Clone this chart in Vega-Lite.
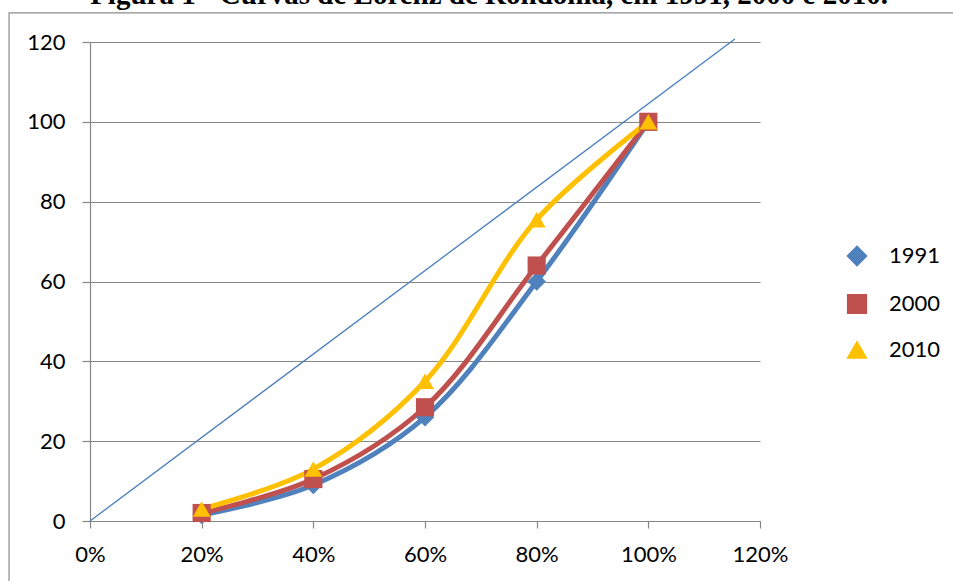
{
  "$schema": "https://vega.github.io/schema/vega-lite/v6.json",
  "width": 670,
  "height": 479,
  "autosize": {"type": "none"},
  "padding": {"left": 90, "top": 42, "right": 193, "bottom": 60},
  "background": "white",
  "config": {"view": {"stroke": null}, "font": "Lato"},
  "title": {
    "text": "Figura 1 - Curvas de Lorenz de Rondônia, em 1991, 2000 e 2010.",
    "font": "Liberation Serif",
    "fontSize": 29,
    "fontWeight": "bold",
    "color": "black",
    "anchor": "middle",
    "frame": "group",
    "dx": 64,
    "offset": -21,
    "baseline": "alphabetic"
  },
  "datasets": {
    "lorenz": [
      {"ano": "1991", "pop": 0.2, "renda": 1.5},
      {"ano": "1991", "pop": 0.4, "renda": 9},
      {"ano": "1991", "pop": 0.6, "renda": 26},
      {"ano": "1991", "pop": 0.8, "renda": 60},
      {"ano": "1991", "pop": 1.0, "renda": 100},
      {"ano": "2000", "pop": 0.2, "renda": 2},
      {"ano": "2000", "pop": 0.4, "renda": 10.5},
      {"ano": "2000", "pop": 0.6, "renda": 28.5},
      {"ano": "2000", "pop": 0.8, "renda": 64},
      {"ano": "2000", "pop": 1.0, "renda": 100},
      {"ano": "2010", "pop": 0.2, "renda": 3},
      {"ano": "2010", "pop": 0.4, "renda": 13},
      {"ano": "2010", "pop": 0.6, "renda": 35},
      {"ano": "2010", "pop": 0.8, "renda": 75.5},
      {"ano": "2010", "pop": 1.0, "renda": 100}
    ],
    "igualdade": [
      {"pop": 0, "renda": 0},
      {"pop": 1.155, "renda": 120.75}
    ]
  },
  "layer": [
    {
      "data": {"values": [{"frame": 1}]},
      "mark": {"type": "rect", "filled": false, "stroke": "#8c8c8c", "strokeWidth": 1.2, "clip": false},
      "encoding": {
        "x": {"datum": -0.145, "type": "quantitative", "scale": {"domain": [0, 1.2]}, "axis": {"format": ".0%", "values": [0, 0.2, 0.4, 0.6, 0.8, 1.0, 1.2], "grid": false, "domainColor": "#868686", "domainWidth": 1.2, "tickColor": "#868686", "tickWidth": 1.2, "tickSize": 7, "labelFontSize": 22, "labelPadding": 16, "labelColor": "black", "labelFlush": false, "labelOverlap": false, "title": null}},
        "x2": {"datum": 2},
        "y": {"datum": 127.3, "type": "quantitative", "scale": {"domain": [0, 120]}, "axis": {"values": [0, 20, 40, 60, 80, 100, 120], "grid": true, "gridColor": "#868686", "gridWidth": 1.2, "domainColor": "#868686", "domainWidth": 1.2, "tickColor": "#868686", "tickWidth": 1.2, "tickSize": 8, "labelFontSize": 22, "labelPadding": 17, "labelColor": "black", "title": null}},
        "y2": {"datum": -40}
      }
    },
    {
      "data": {"name": "igualdade"},
      "mark": {"type": "line", "color": "#4A7EBB", "strokeWidth": 1.3},
      "encoding": {
        "x": {"field": "pop", "type": "quantitative"},
        "y": {"field": "renda", "type": "quantitative"}
      }
    },
    {
      "data": {"name": "lorenz"},
      "mark": {"type": "line", "interpolate": "catmull-rom", "strokeWidth": 5},
      "encoding": {
        "x": {"field": "pop", "type": "quantitative"},
        "y": {"field": "renda", "type": "quantitative"},
        "color": {"field": "ano", "type": "nominal", "scale": {"domain": ["1991", "2000", "2010"], "range": ["#4F81BD", "#C0504D", "#FFC000"]}}
      }
    },
    {
      "data": {"name": "lorenz"},
      "mark": {"type": "point", "filled": true, "opacity": 1},
      "encoding": {
        "x": {"field": "pop", "type": "quantitative"},
        "y": {"field": "renda", "type": "quantitative"},
        "color": {"field": "ano", "type": "nominal", "title": null,
          "legend": {
            "orient": "none", "legendX": 756, "legendY": 203,
            "padding": 0, "labelFontSize": 22, "labelColor": "black", "labelOffset": 21,
            "rowPadding": 20, "symbolStrokeWidth": 2
          }},
        "shape": {"field": "ano", "type": "nominal", "scale": {"domain": ["1991", "2000", "2010"], "range": ["diamond", "square", "triangle-up"]}},
        "size": {"field": "ano", "type": "nominal", "scale": {"domain": ["1991", "2000", "2010"], "range": [340, 320, 500]}}
      }
    }
  ]
}
